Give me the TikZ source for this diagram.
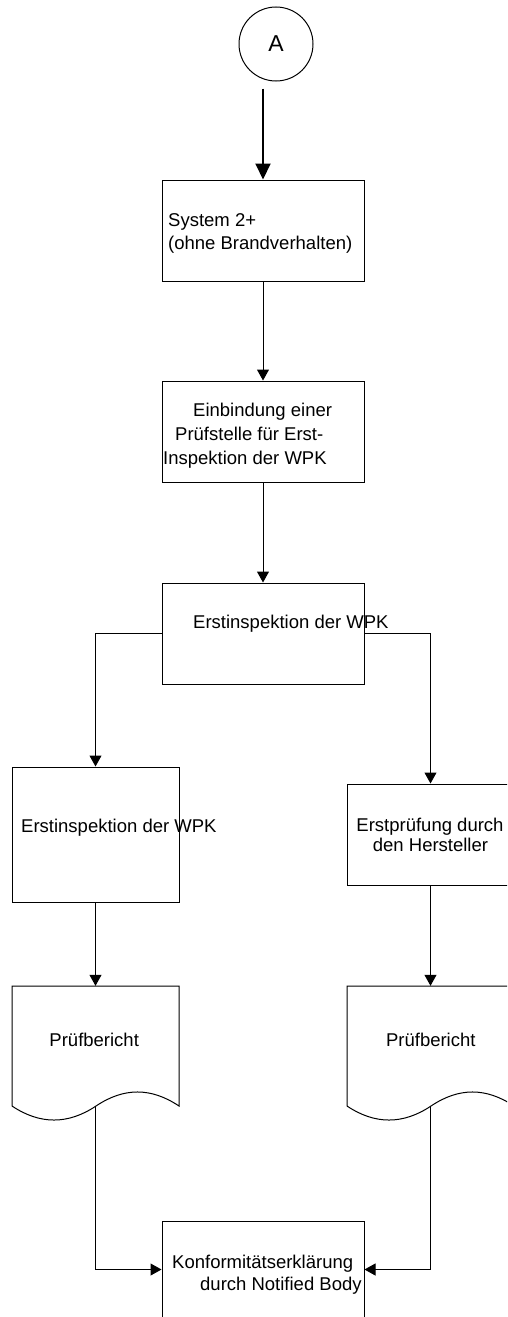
\documentclass[tikz,border=0pt]{standalone}
\usepackage{fontspec}
\setmainfont{Liberation Sans}
\usetikzlibrary{arrows.meta}
\begin{document}
\begin{tikzpicture}[x=1pt,y=-1pt,
  box/.style={draw=black, line width=1pt, rectangle, inner sep=0pt},
  ghost/.style={rectangle, inner sep=0pt},
  outline/.style={draw=black, line width=1pt},
  lbl/.style={anchor=base west, inner sep=0pt, font=\fontsize{18.5}{22}\selectfont},
  clbl/.style={anchor=base, inner sep=0pt, font=\fontsize{18.5}{22}\selectfont},
  link/.style={line width=1pt, -{Triangle[length=11pt,width=12pt]}},
  thicklink/.style={line width=2pt, -{Triangle[length=16pt,width=15pt]}},
]
\useasboundingbox (0,0) rectangle (507,1317);
\clip (0,0) rectangle (507,1317);

% connector circle
\node[circle, draw=black, line width=1pt, minimum size=74pt, inner sep=0pt,
      font=\fontsize{23}{26}\selectfont] (A) at (276,44) {A};

% process boxes
\node[box, minimum width=202pt, minimum height=101pt] (b1) at (263,230.5) {};
\node[box, minimum width=202pt, minimum height=101pt] (b2) at (263,431.5) {};
\node[box, minimum width=202pt, minimum height=101pt] (b3) at (263,633.5) {};
\node[box, minimum width=167pt, minimum height=135pt] (lbox) at (95.5,834.5) {};
\node[box, minimum width=167pt, minimum height=101pt] (rbox) at (430.5,834.5) {};
\node[box, minimum width=202pt, minimum height=97pt] (b4) at (263,1269.5) {};

% document shapes (named frames, outline drawn below)
\node[ghost, minimum width=167pt, minimum height=120pt] (ldoc) at (95.5,1046) {};
\node[ghost, minimum width=167pt, minimum height=120pt] (rdoc) at (430.5,1046) {};
\draw[outline] (12,1106) -- (12,986) -- (179,986) -- (179,1106)
  .. controls (151,1087.3) and (124,1087.3) .. (96,1106)
  .. controls (68,1124.7) and (40,1124.7) .. (12,1106);
\draw[outline] (347,1106) -- (347,986) -- (514,986) -- (514,1106)
  .. controls (486,1087.3) and (459,1087.3) .. (431,1106)
  .. controls (403,1124.7) and (375,1124.7) .. (347,1106);

% texts
\node[lbl] (t1a) at (168,226.7) {System 2+};
\node[lbl] (t1b) at (168,249) {(ohne Brandverhalten)};
\node[lbl] (t2a) at (193,416.7) {Einbindung einer};
\node[lbl] (t2b) at (175,440.5) {Prüfstelle für Erst-};
\node[lbl] (t2c) at (163,464) {Inspektion der WPK};
\node[lbl] (t3) at (193,628.3) {Erstinspektion der WPK};
\node[lbl] (t4) at (21,832.7) {Erstinspektion der WPK};
\node[clbl] (t5a) at (430,831.7) {Erstprüfung durch};
\node[clbl] (t5b) at (430.5,851.7) {den Hersteller};
\node[clbl] (t6) at (94.2,1046) {Prüfbericht};
\node[clbl] (t7) at (430.8,1046) {Prüfbericht};
\node[lbl] (t8a) at (172,1268.3) {Konformitätserklärung};
\node[lbl] (t8b) at (200,1290) {durch Notified Body};

% connectors
\draw[thicklink] ([yshift=-7pt]A.south -| b1.north) -- (b1.north);
\draw[link] (b1.south) -- (b2.north);
\draw[link] (b2.south) -- (b3.north);
\draw[link] (b3.west) -| (lbox.north);
\draw[link] (b3.east) -| (rbox.north);
\draw[link] (lbox.south) -- (ldoc.north);
\draw[link] (rbox.south) -- (rdoc.north);
\draw[link] (ldoc.south) |- (b4.west);
\draw[link] (rdoc.south) |- (b4.east);
\end{tikzpicture}
\end{document}
